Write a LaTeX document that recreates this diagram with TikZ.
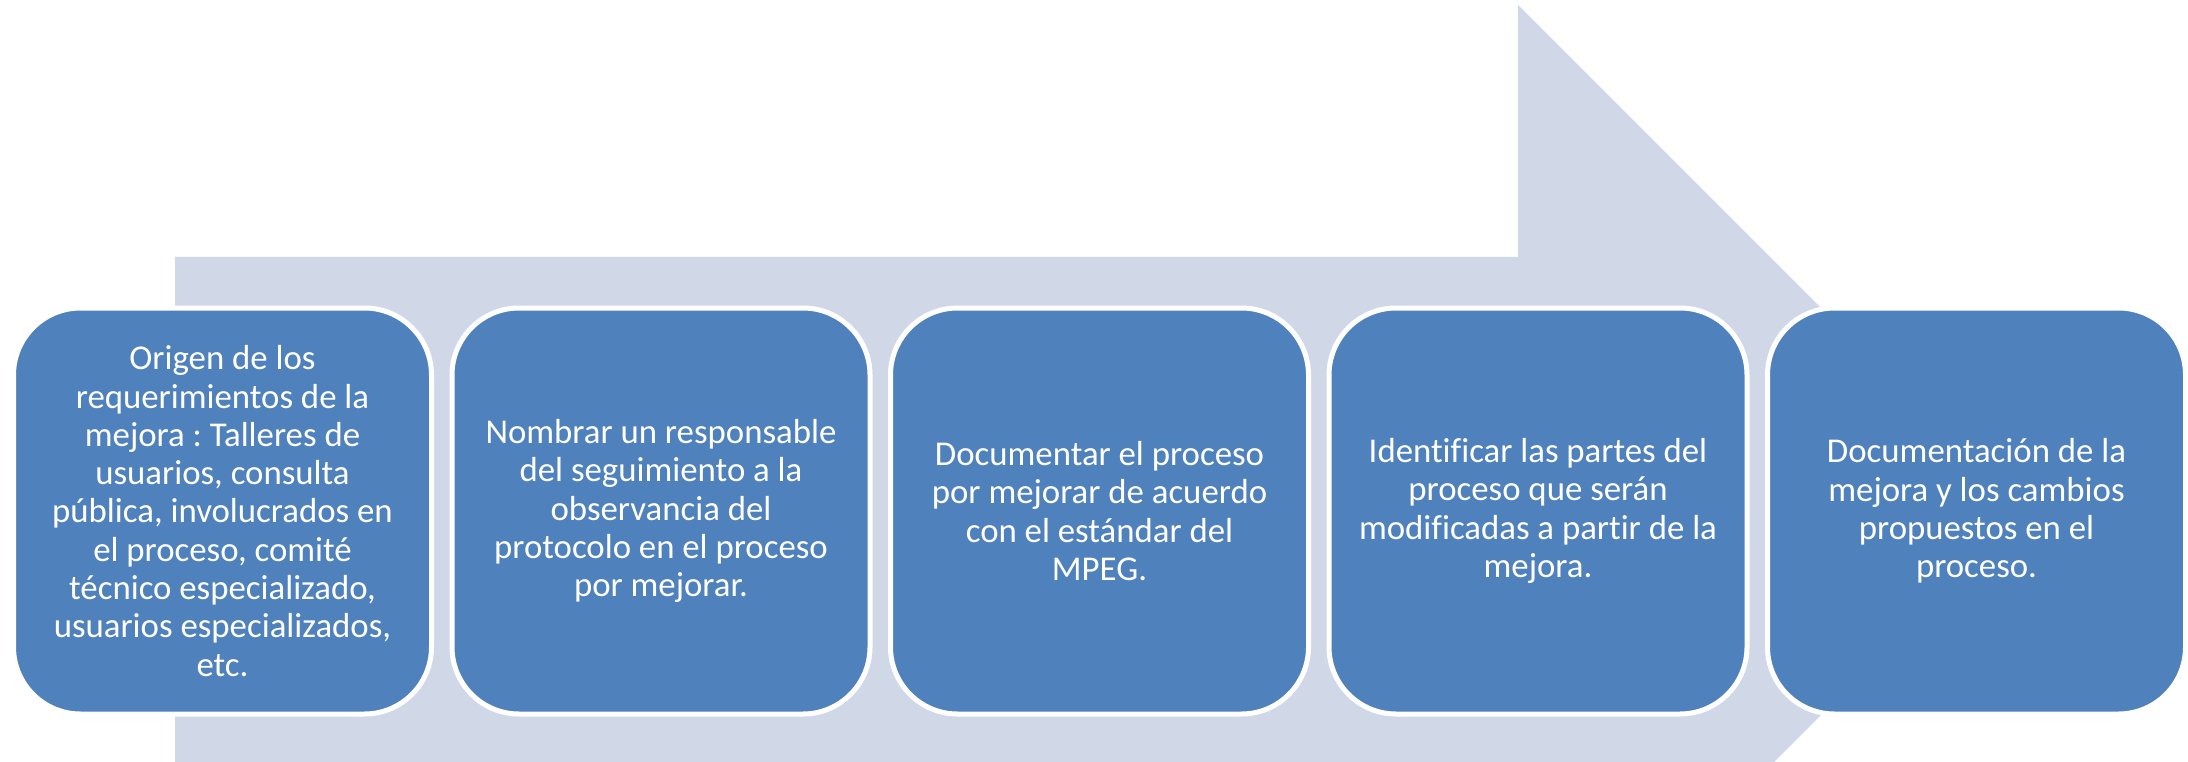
\documentclass[tikz,border=0pt]{standalone}
\usepackage{fontspec}
\setmainfont{Carlito}[Ligatures={NoCommon}]
\frenchspacing
\definecolor{arrowfill}{HTML}{D0D8E8}
\definecolor{boxfill}{HTML}{4F81BD}
\begin{document}
\begin{tikzpicture}[x=1pt,y=-1pt,
  stepbox/.style={draw=white, line width=5pt, fill=boxfill, rounded corners=67pt,
    minimum width=418pt, minimum height=406pt, inner sep=0pt, text=white,
    align=center, font=\fontsize{34.8}{38.3}\selectfont}]
\useasboundingbox (0,0) rectangle (2188,762);
\begin{scope}
\clip (0,0) rectangle (2188,762);
\fill[arrowfill] (175,257) -- (1518,257) -- (1518,5) -- (2024.5,511.5) -- (1518,1018) -- (1518,766) -- (175,766) -- cycle;
\end{scope}
\node[stepbox] (b1) at (222.5,511) {Origen de los\\requerimientos de la\\mejora : Talleres de\\usuarios, consulta\\pública, involucrados en\\el proceso, comité\\técnico especializado,\\usuarios especializados,\\etc.};
\node[stepbox] (b2) at (661,511) {Nombrar un responsable\\del seguimiento a la\\observancia del\\protocolo en el proceso\\por mejorar.};
\node[stepbox] (b3) at (1099.5,511) {Documentar el proceso\\por mejorar de acuerdo\\con el estándar del\\MPEG.};
\node[stepbox] (b4) at (1538,511) {Identificar las partes del\\proceso que serán\\modificadas a partir de la\\mejora.};
\node[stepbox] (b5) at (1976.5,511) {Documentación de la\\mejora y los cambios\\propuestos en el\\proceso.};
\end{tikzpicture}
\end{document}
